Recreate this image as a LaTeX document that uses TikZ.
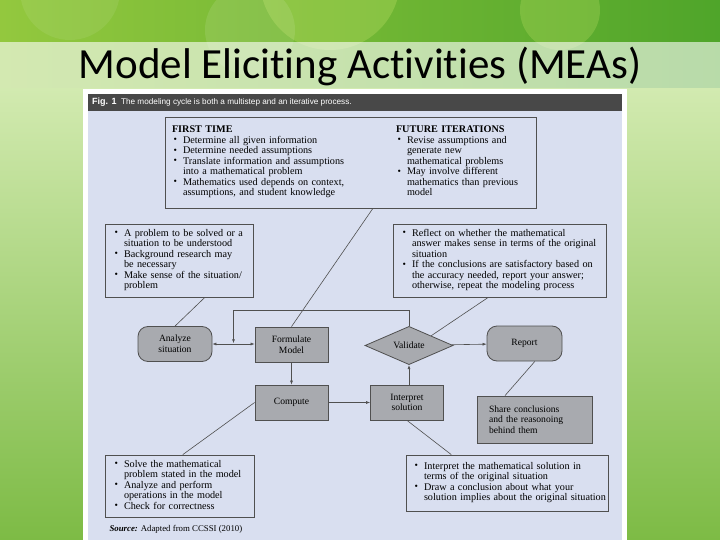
\documentclass[tikz,border=0pt]{standalone}
\usepackage{fontspec}
\usepackage{graphicx}
\setmainfont{Liberation Serif}
\newfontfamily\titlefont[Ligatures=NoCommon]{Carlito}
\newfontfamily\capfont{Liberation Sans}
\usetikzlibrary{positioning,arrows.meta,shapes.geometric,calc}

\definecolor{panelblue}{HTML}{D9DFF0}
\definecolor{stepgrey}{HTML}{A8AAAF}
\definecolor{edgegrey}{HTML}{505050}
\definecolor{barfill}{HTML}{484848}
\definecolor{leafgreen}{HTML}{93C83E}
\definecolor{deepgreen}{HTML}{4FA52A}
\definecolor{limegreen}{HTML}{B9DE62}
\definecolor{palegreen}{HTML}{D2EAB0}
\definecolor{grassgreen}{HTML}{7DBB45}

% bullet and a bullet list with explicit lines
\newcommand{\bt}{\hspace*{1.5pt}\raisebox{0.4pt}{\scalebox{0.95}{\textbullet}}}
\newcommand{\pts}[1]{\begin{tabular}[t]{@{}p{11pt}@{}l@{}}#1\end{tabular}}

\begin{document}
\begin{tikzpicture}[x=1pt, y=-1pt,
    every node/.style={font=\fontsize{10.2}{10.5}\selectfont},
    notebox/.style={rectangle, draw=edgegrey, line width=0.8pt,
          fill=panelblue, inner xsep=7pt, inner ysep=0pt, align=left},
    stepbox/.style={rectangle, draw=edgegrey, line width=0.8pt,
          fill=stepgrey, minimum width=73pt, minimum height=35pt,
          inner sep=1pt, align=center, font=\fontsize{9.6}{10.6}\selectfont},
    endbox/.style={stepbox, rounded corners=10pt},
    link/.style={draw=edgegrey, line width=0.6pt},
    >={Latex[length=4pt,width=3pt]},
    arr/.style={link, ->},
]
    % slide background
    \shade[top color=palegreen, bottom color=grassgreen] (0,88) rectangle (720,540);
    \begin{scope}
        \clip (0,0) rectangle (720,88);
        \shade[left color=leafgreen, right color=deepgreen] (0,0) rectangle (720,88);
        \fill[limegreen, opacity=0.35] (330,-20) circle (70);
        \fill[white, opacity=0.1] (250,30) circle (45);
        \fill[limegreen, opacity=0.3] (560,10) circle (40);
        \fill[white, opacity=0.08] (70,-10) circle (50);
    \end{scope}
    \fill[white, opacity=0.6] (0,42) rectangle (720,88);
    \node[font=\titlefont\fontsize{43}{45}\selectfont, anchor=base] (title)
        at (360,79) {Model Eliciting Activities (MEAs)};

    % figure panel
    \fill[white] (83,89) rectangle (627,540);
    \fill[barfill] (88,94) rectangle (622,111);
    \fill[panelblue] (88,111) rectangle (622,540);
    \node[anchor=west, text=white, inner sep=0pt,
          font=\capfont\fontsize{8.2}{9}\selectfont] (cap) at (92,102.5)
        {\textbf{\fontsize{9}{9}\selectfont Fig. 1}\ \ The modeling cycle is both a multistep and an iterative process.};

    % note boxes
    \node[notebox, text width=357pt, minimum height=91pt] (iter) at (350.5,162.5)
        {\begin{minipage}[t]{224pt}\textbf{FIRST TIME}\\
         \pts{\bt & Determine all given information\\
              \bt & Determine needed assumptions\\
              \bt & Translate information and assumptions\\
                  & into a mathematical problem\\
              \bt & Mathematics used depends on context,\\
                  & assumptions, and student knowledge}\end{minipage}%
         \begin{minipage}[t]{133pt}\textbf{FUTURE ITERATIONS}\\
         \pts{\bt & Revise assumptions and\\
                  & generate new\\
                  & mathematical problems\\
              \bt & May involve different\\
                  & mathematics than previous\\
                  & model}\end{minipage}};
    \node[notebox, inner xsep=8pt, text width=132pt, minimum height=73pt] (probs) at (179,260.5)
        {\pts{\bt & A problem to be solved or a\\
                  & situation to be understood\\
              \bt & Background research may\\
                  & be necessary\\
              \bt & Make sense of the situation/\\
                  & problem}};
    \node[notebox, inner xsep=8pt, text width=197pt, minimum height=73pt] (refs) at (499.5,260.5)
        {\pts{\bt & Reflect on whether the mathematical\\
                  & answer makes sense in terms of the original\\
                  & situation\\
              \bt & If the conclusions are satisfactory based on\\
                  & the accuracy needed, report your answer;\\
                  & otherwise, repeat the modeling process}};
    \node[notebox, inner xsep=8pt, text width=133pt, minimum height=62pt] (solve) at (179.5,486)
        {\pts{\bt & Solve the mathematical\\
                  & problem stated in the model\\
              \bt & Analyze and perform\\
                  & operations in the model\\
              \bt & Check for correctness}};
    \node[notebox, inner xsep=7pt, text width=188pt, minimum height=56pt] (conc) at (507,483)
        {\pts{\bt & Interpret the mathematical solution in\\
                  & terms of the original situation\\
              \bt & Draw a conclusion about what your\\
                  & solution implies about the original situation}};

    % cycle steps
    \node[endbox, minimum width=74pt] (analyze) at (175,344) {Analyze\\situation};
    \node[stepbox] (form) at (291.5,344.5) {Formulate\\Model};
    \node[stepbox, diamond, minimum width=88pt, minimum height=35pt,
          inner sep=0pt] (valid) at (409,345.5) {Validate};
    \node[endbox, minimum width=75pt] (report) at (524.5,343.5) {Report};
    \node[stepbox] (comp) at (291.5,402.5) {Compute};
    \node[stepbox] (interp) at (407,402.5) {Interpret\\solution};
    \node[stepbox, minimum width=115pt, minimum height=47pt, inner xsep=12pt,
          text width=91pt, align=left] (share) at (534.5,419.5)
        {Share conclusions\\and the reasonoing\\behind them};

    % cycle arrows
    \coordinate (fork) at ($(analyze.east)!0.5!(form.west)$);
    \draw[link, <->] (analyze.east) -- (analyze.east -| form.west);
    \draw[arr] (valid.north) -- ++(0,-16) -| ([yshift=1pt]fork);
    \draw[arr] (form) -- (comp);
    \draw[arr] (comp) -- (interp);
    \draw[arr] (interp.north -| valid.south) -- (valid.south);
    \draw[arr] (valid) -- (report);

    % notes to steps
    \draw[link] (iter.-64) -- (form.north);
    \draw[link] (probs.-55) -- (analyze.north);
    \draw[link] (refs.-107) -- ($(valid.north)!0.5!(valid.east)$);
    \draw[link] (report.-60) -- (share.141);
    \draw[link] (comp.west) -- (solve.84);
    \draw[link] (interp.south) -- (conc.153);

    \node[anchor=west, font=\fontsize{8.8}{9}\selectfont] (src) at (106,529)
        {\textbf{\textit{Source:}} Adapted from CCSSI (2010)};
\end{tikzpicture}
\end{document}
